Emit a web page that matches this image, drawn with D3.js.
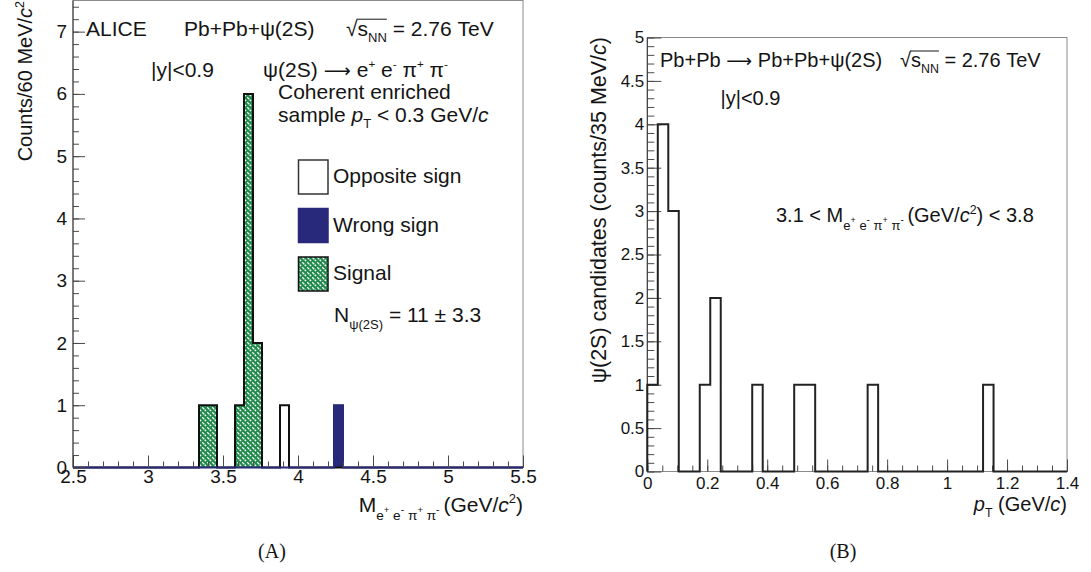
<!DOCTYPE html>
<html><head><meta charset="utf-8">
<script src="https://cdn.jsdelivr.net/npm/d3@7"></script>
<style>
body{margin:0;background:#fff}
svg{display:block}
text{font-family:"Liberation Sans",Arial,sans-serif;fill:#141414}
</style>
</head><body><svg id="c" width="1091" height="572"></svg>
<script>
// ---------------- data ----------------
// Panel A: invariant mass histograms, 60 MeV/c^2 bins (low edges, counts)
const massBinWidth = 0.06;
const massBinLow   = [3.34, 3.40, 3.58, 3.64, 3.70, 3.88, 4.24];
const oppositeSign = [1, 1, 1, 6, 2, 1, 0];
const wrongSign    = [0, 0, 0, 0, 0, 0, 1];
const signal       = [1, 1, 1, 6, 2, 0, 0];
// Panel B: pT distribution, 35 MeV/c bins (low edges, counts)
const ptBinWidth = 0.035;
const ptBinLow   = [0, 0.035, 0.07, 0.175, 0.21, 0.35, 0.49, 0.525, 0.735, 1.12];
const ptCounts   = [1, 4, 3, 1, 2, 1, 1, 1, 1, 1];
// tick labels
const massTicks   = [2.5, 3, 3.5, 4, 4.5, 5, 5.5];
const countTicksA = [0, 1, 2, 3, 4, 5, 6, 7];
const ptTicks     = [0, 0.2, 0.4, 0.6, 0.8, 1, 1.2, 1.4];
const countTicksB = [0, 0.5, 1, 1.5, 2, 2.5, 3, 3.5, 4, 4.5, 5];

// ---------------- setup ----------------
const svg = d3.select('#c');
const GREEN = '#1d8a4a', NAVY = '#28297a', FRAME = '#8a8a8a', TICK = '#4a4a4a';
const defs = svg.append('defs');
const pat = defs.append('pattern').attr('id','hatch').attr('patternUnits','userSpaceOnUse')
  .attr('width',5).attr('height',5);
pat.append('rect').attr('width',5).attr('height',5).attr('fill',GREEN);
pat.append('path').attr('d','M-1,-1L6,6M-1,4L1,6M4,-1L6,1').attr('stroke','#fff')
  .attr('stroke-width',1.3).attr('stroke-dasharray','3,1.6');

// rich text helper: parts {t, s(scale), dy(in em of base), it, over, f}
function rich(g, x, y, parts, size, anchor, rot) {
  const grp = g.append('g').attr('transform', `translate(${x},${y})` + (rot ? ' rotate(-90)' : ''));
  let cx = 0; const items = [];
  parts.forEach(p => {
    const fs = size * (p.s || 1);
    const t = grp.append('text').attr('y', (p.dy || 0) * size).attr('font-size', fs)
      .attr('font-style', p.it ? 'italic' : null).text(p.t.replace(/ /g, '\u00A0'));
    if (p.f) t.style('font-family', p.f);
    const w = t.node().getComputedTextLength();
    items.push({t, x0: cx, w, p});
    cx += w;
  });
  const shift = anchor === 'end' ? -cx : anchor === 'middle' ? -cx / 2 : 0;
  items.forEach(it => it.t.attr('x', it.x0 + shift));
  const ov = items.filter(it => it.p.over);
  if (ov.length) {
    const a = ov[0].x0 + shift - 1, b = ov[ov.length - 1].x0 + ov[ov.length - 1].w + shift;
    grp.append('line').attr('x1', a).attr('x2', b).attr('y1', -size * 0.8).attr('y2', -size * 0.8)
      .attr('stroke', '#141414').attr('stroke-width', 1);
  }
  return grp;
}
const sub = (t, s = 0.62, dy = 0.3) => ({t, s, dy});
const sup = (t, s = 0.55, dy = -0.42) => ({t, s, dy});
const ARROW = {t: ' ⟶ ', f: '"DejaVu Sans",sans-serif', s: 0.9};
const msub = () => [{t: 'e', s: .65, dy: .38}, {t: '+', s: .45, dy: .06}, {t: ' e', s: .65, dy: .38},
  {t: '-', s: .5, dy: .06}, {t: ' π', s: .65, dy: .38}, {t: '+', s: .45, dy: .06}, {t: ' π', s: .65, dy: .38},
  {t: '-', s: .5, dy: .06}, {t: ' ', s: .65}];

function fullBins(x0, nb, w, lows, vals) {
  const arr = new Array(nb).fill(0);
  lows.forEach((l, i) => { arr[Math.round((l - x0) / w)] = vals[i]; });
  return arr;
}
function stepPts(x0, w, counts) {
  const pts = [[x0, 0]];
  counts.forEach((c, i) => { pts.push([x0 + i * w, c], [x0 + (i + 1) * w, c]); });
  pts.push([x0 + counts.length * w, 0]);
  return pts;
}
function styleAxis(g, fs) {
  g.attr('font-family', null).attr('font-size', null);
  g.select('.domain').remove();
  g.selectAll('.tick line').attr('stroke', TICK).attr('stroke-width', 1);
  g.selectAll('.tick text').attr('font-size', fs).attr('fill', '#141414');
}

// ================= Panel A =================
const xL = d3.scaleLinear().domain([2.5, 5.5]).range([73, 523]);
const yL = d3.scaleLinear().domain([0, 7.5]).range([467.5, 0.5]);
const gA = svg.append('g');

gA.append('rect').attr('x', xL(2.5)).attr('y', yL(7.5)).attr('width', xL(5.5) - xL(2.5))
  .attr('height', yL(0) - yL(7.5)).attr('fill', 'none').attr('stroke', FRAME).attr('stroke-width', 1);

// signal (hatched)
gA.selectAll('.sig').data(massBinLow.map((l, i) => ({l, v: signal[i]})).filter(d => d.v > 0))
  .enter().append('rect').attr('x', d => xL(d.l)).attr('width', d => xL(d.l + massBinWidth) - xL(d.l))
  .attr('y', d => yL(d.v)).attr('height', d => yL(0) - yL(d.v)).attr('fill', 'url(#hatch)');
// wrong sign (filled navy)
gA.selectAll('.ws').data(massBinLow.map((l, i) => ({l, v: wrongSign[i]})).filter(d => d.v > 0))
  .enter().append('rect').attr('x', d => xL(d.l)).attr('width', d => xL(d.l + massBinWidth) - xL(d.l))
  .attr('y', d => yL(d.v)).attr('height', d => yL(0) - yL(d.v)).attr('fill', NAVY)
  .attr('stroke', NAVY).attr('stroke-width', 1);
// opposite sign outline
const osFull = fullBins(2.5, 50, massBinWidth, massBinLow, oppositeSign);
const lineA = d3.line().x(d => xL(d[0])).y(d => yL(d[1]));
gA.append('path').attr('d', lineA(stepPts(2.5, massBinWidth, osFull))).attr('fill', 'none')
  .attr('stroke', '#111').attr('stroke-width', 2);
// wrong-sign baseline
const wsFull = fullBins(2.5, 50, massBinWidth, massBinLow, wrongSign);
gA.append('path').attr('d', lineA(stepPts(2.5, massBinWidth, wsFull))).attr('fill', 'none')
  .attr('stroke', NAVY).attr('stroke-width', 2);

// axes
const axA_xmin = gA.append('g').attr('transform', `translate(0,${yL(0)})`)
  .call(d3.axisBottom(xL).tickValues(d3.range(2.5, 5.5001, 0.1)).tickSize(-6).tickFormat(''));
styleAxis(axA_xmin, 19);
const axA_x = gA.append('g').attr('transform', `translate(0,${yL(0)})`)
  .call(d3.axisBottom(xL).tickValues(massTicks).tickSize(-12).tickPadding(2).tickFormat(d3.format('~g')));
styleAxis(axA_x, 19);
const axA_ymin = gA.append('g').attr('transform', `translate(${xL(2.5)},0)`)
  .call(d3.axisLeft(yL).tickValues(d3.range(0, 7.5001, 0.2)).tickSize(-6).tickFormat(''));
styleAxis(axA_ymin, 19);
const axA_y = gA.append('g').attr('transform', `translate(${xL(2.5)},0)`)
  .call(d3.axisLeft(yL).tickValues(countTicksA).tickSize(-12).tickPadding(6).tickFormat(d3.format('~g')));
styleAxis(axA_y, 19);
gA.append('line').attr('x1', xL(2.5)).attr('x2', xL(2.5)).attr('y1', yL(7.5)).attr('y2', yL(0))
  .attr('stroke', '#333').attr('stroke-width', 1);

// texts panel A
const FA = 21;
rich(gA, 86, 36, [{t: 'ALICE'}], FA);
rich(gA, 184, 36, [{t: 'Pb+Pb+ψ(2S)'}], FA);
rich(gA, 346, 36, [{t: '√'}, {t: 's', over: 1}, {t: 'NN', s: .62, dy: .3, over: 1}, {t: ' = 2.76 TeV'}], FA);
rich(gA, 151, 76.5, [{t: '|y|<0.9'}], FA);
rich(gA, 263, 76.5, [{t: 'ψ(2S)'}, ARROW, {t: 'e'}, sup('+'), {t: ' e'}, sup('-'), {t: ' π'}, sup('+'), {t: ' π'}, sup('-')], FA);
rich(gA, 278, 98.5, [{t: 'Coherent enriched'}], FA);
rich(gA, 278, 122, [{t: 'sample '}, {t: 'p', it: 1}, sub('T'), {t: ' < 0.3 GeV/'}, {t: 'c', it: 1}], FA);

// legend
const legend = [
  {label: 'Opposite sign', fill: '#fff', stroke: '#333', y: 160},
  {label: 'Wrong sign', fill: NAVY, stroke: NAVY, y: 208.5},
  {label: 'Signal', fill: 'url(#hatch)', stroke: '#111', y: 257}
];
legend.forEach(d => {
  gA.append('rect').attr('x', 298.5).attr('y', d.y).attr('width', 29.5).attr('height', 34)
    .attr('fill', d.fill).attr('stroke', d.stroke).attr('stroke-width', 1.5);
  rich(gA, 333, d.y + 23, [{t: d.label}], FA);
});
rich(gA, 334, 322, [{t: 'N'}, sub('ψ(2S)', .62, .32), {t: ' = 11 ± 3.3'}], FA);

// axis titles A
rich(gA, 523, 512, [{t: 'M'}].concat(msub(), [{t: '(GeV/'}, {t: 'c', it: 1}, sup('2', .62, -.42), {t: ')'}]), FA, 'end');
rich(gA, 32, 1, [{t: 'Counts/60 MeV/'}, {t: 'c', it: 1}, sup('2', .62, -.42)], 20, 'end', true);

// ================= Panel B =================
const xR = d3.scaleLinear().domain([0, 1.4]).range([647.3, 1067]);
const yR = d3.scaleLinear().domain([0, 5]).range([471.5, 37.5]);
const gB = svg.append('g');
gB.append('rect').attr('x', xR(0)).attr('y', yR(5)).attr('width', xR(1.4) - xR(0))
  .attr('height', yR(0) - yR(5)).attr('fill', 'none').attr('stroke', FRAME).attr('stroke-width', 1);

const axB_xmin = gB.append('g').attr('transform', `translate(0,${yR(0)})`)
  .call(d3.axisBottom(xR).tickValues(d3.range(0, 1.4001, 0.05)).tickSize(-6).tickFormat(''));
styleAxis(axB_xmin, 17);
const axB_x = gB.append('g').attr('transform', `translate(0,${yR(0)})`)
  .call(d3.axisBottom(xR).tickValues(ptTicks).tickSize(-12).tickPadding(5).tickFormat(d3.format('~g')));
styleAxis(axB_x, 17);
const axB_ymin = gB.append('g').attr('transform', `translate(${xR(0)},0)`)
  .call(d3.axisLeft(yR).tickValues(d3.range(0, 5.0001, 0.1)).tickSize(-7).tickFormat(''));
styleAxis(axB_ymin, 17);
const axB_y = gB.append('g').attr('transform', `translate(${xR(0)},0)`)
  .call(d3.axisLeft(yR).tickValues(countTicksB).tickSize(-14).tickPadding(3).tickFormat(d3.format('~g')));
styleAxis(axB_y, 17);
gB.append('line').attr('x1', xR(0)).attr('x2', xR(0)).attr('y1', yR(5)).attr('y2', yR(0))
  .attr('stroke', '#333').attr('stroke-width', 1);

const ptFull = fullBins(0, 40, ptBinWidth, ptBinLow, ptCounts);
const lineB = d3.line().x(d => xR(d[0])).y(d => yR(d[1]));
gB.append('path').attr('d', lineB(stepPts(0, ptBinWidth, ptFull))).attr('fill', 'none')
  .attr('stroke', '#222').attr('stroke-width', 2);

const FB = 20;
rich(gB, 660, 67, [{t: 'Pb+Pb'}, ARROW, {t: 'Pb+Pb+ψ(2S)'}], FB);
rich(gB, 900, 67, [{t: '√'}, {t: 's', over: 1}, {t: 'NN', s: .62, dy: .3, over: 1}, {t: ' = 2.76 TeV'}], FB);
rich(gB, 720.5, 105, [{t: '|y|<0.9'}], FB);
rich(gB, 776, 222, [{t: '3.1 < M'}].concat(msub(), [{t: '(GeV/'}, {t: 'c', it: 1}, sup('2', .62, -.42), {t: ') < 3.8'}]), 20);
rich(gB, 1067, 511, [{t: 'p', it: 1}, sub('T'), {t: ' (GeV/'}, {t: 'c', it: 1}, {t: ')'}], FB, 'end');
rich(gB, 606, 37, [{t: 'ψ(2S) candidates (counts/35 MeV/'}, {t: 'c', it: 1}, {t: ')'}], 21.5, 'end', true);

// panel captions
svg.append('text').attr('x', 272).attr('y', 558).attr('text-anchor', 'middle')
  .style('font-family', '"Liberation Serif",serif').attr('font-size', 20).text('(A)');
svg.append('text').attr('x', 843).attr('y', 558).attr('text-anchor', 'middle')
  .style('font-family', '"Liberation Serif",serif').attr('font-size', 20).text('(B)');
</script>
</body></html>
